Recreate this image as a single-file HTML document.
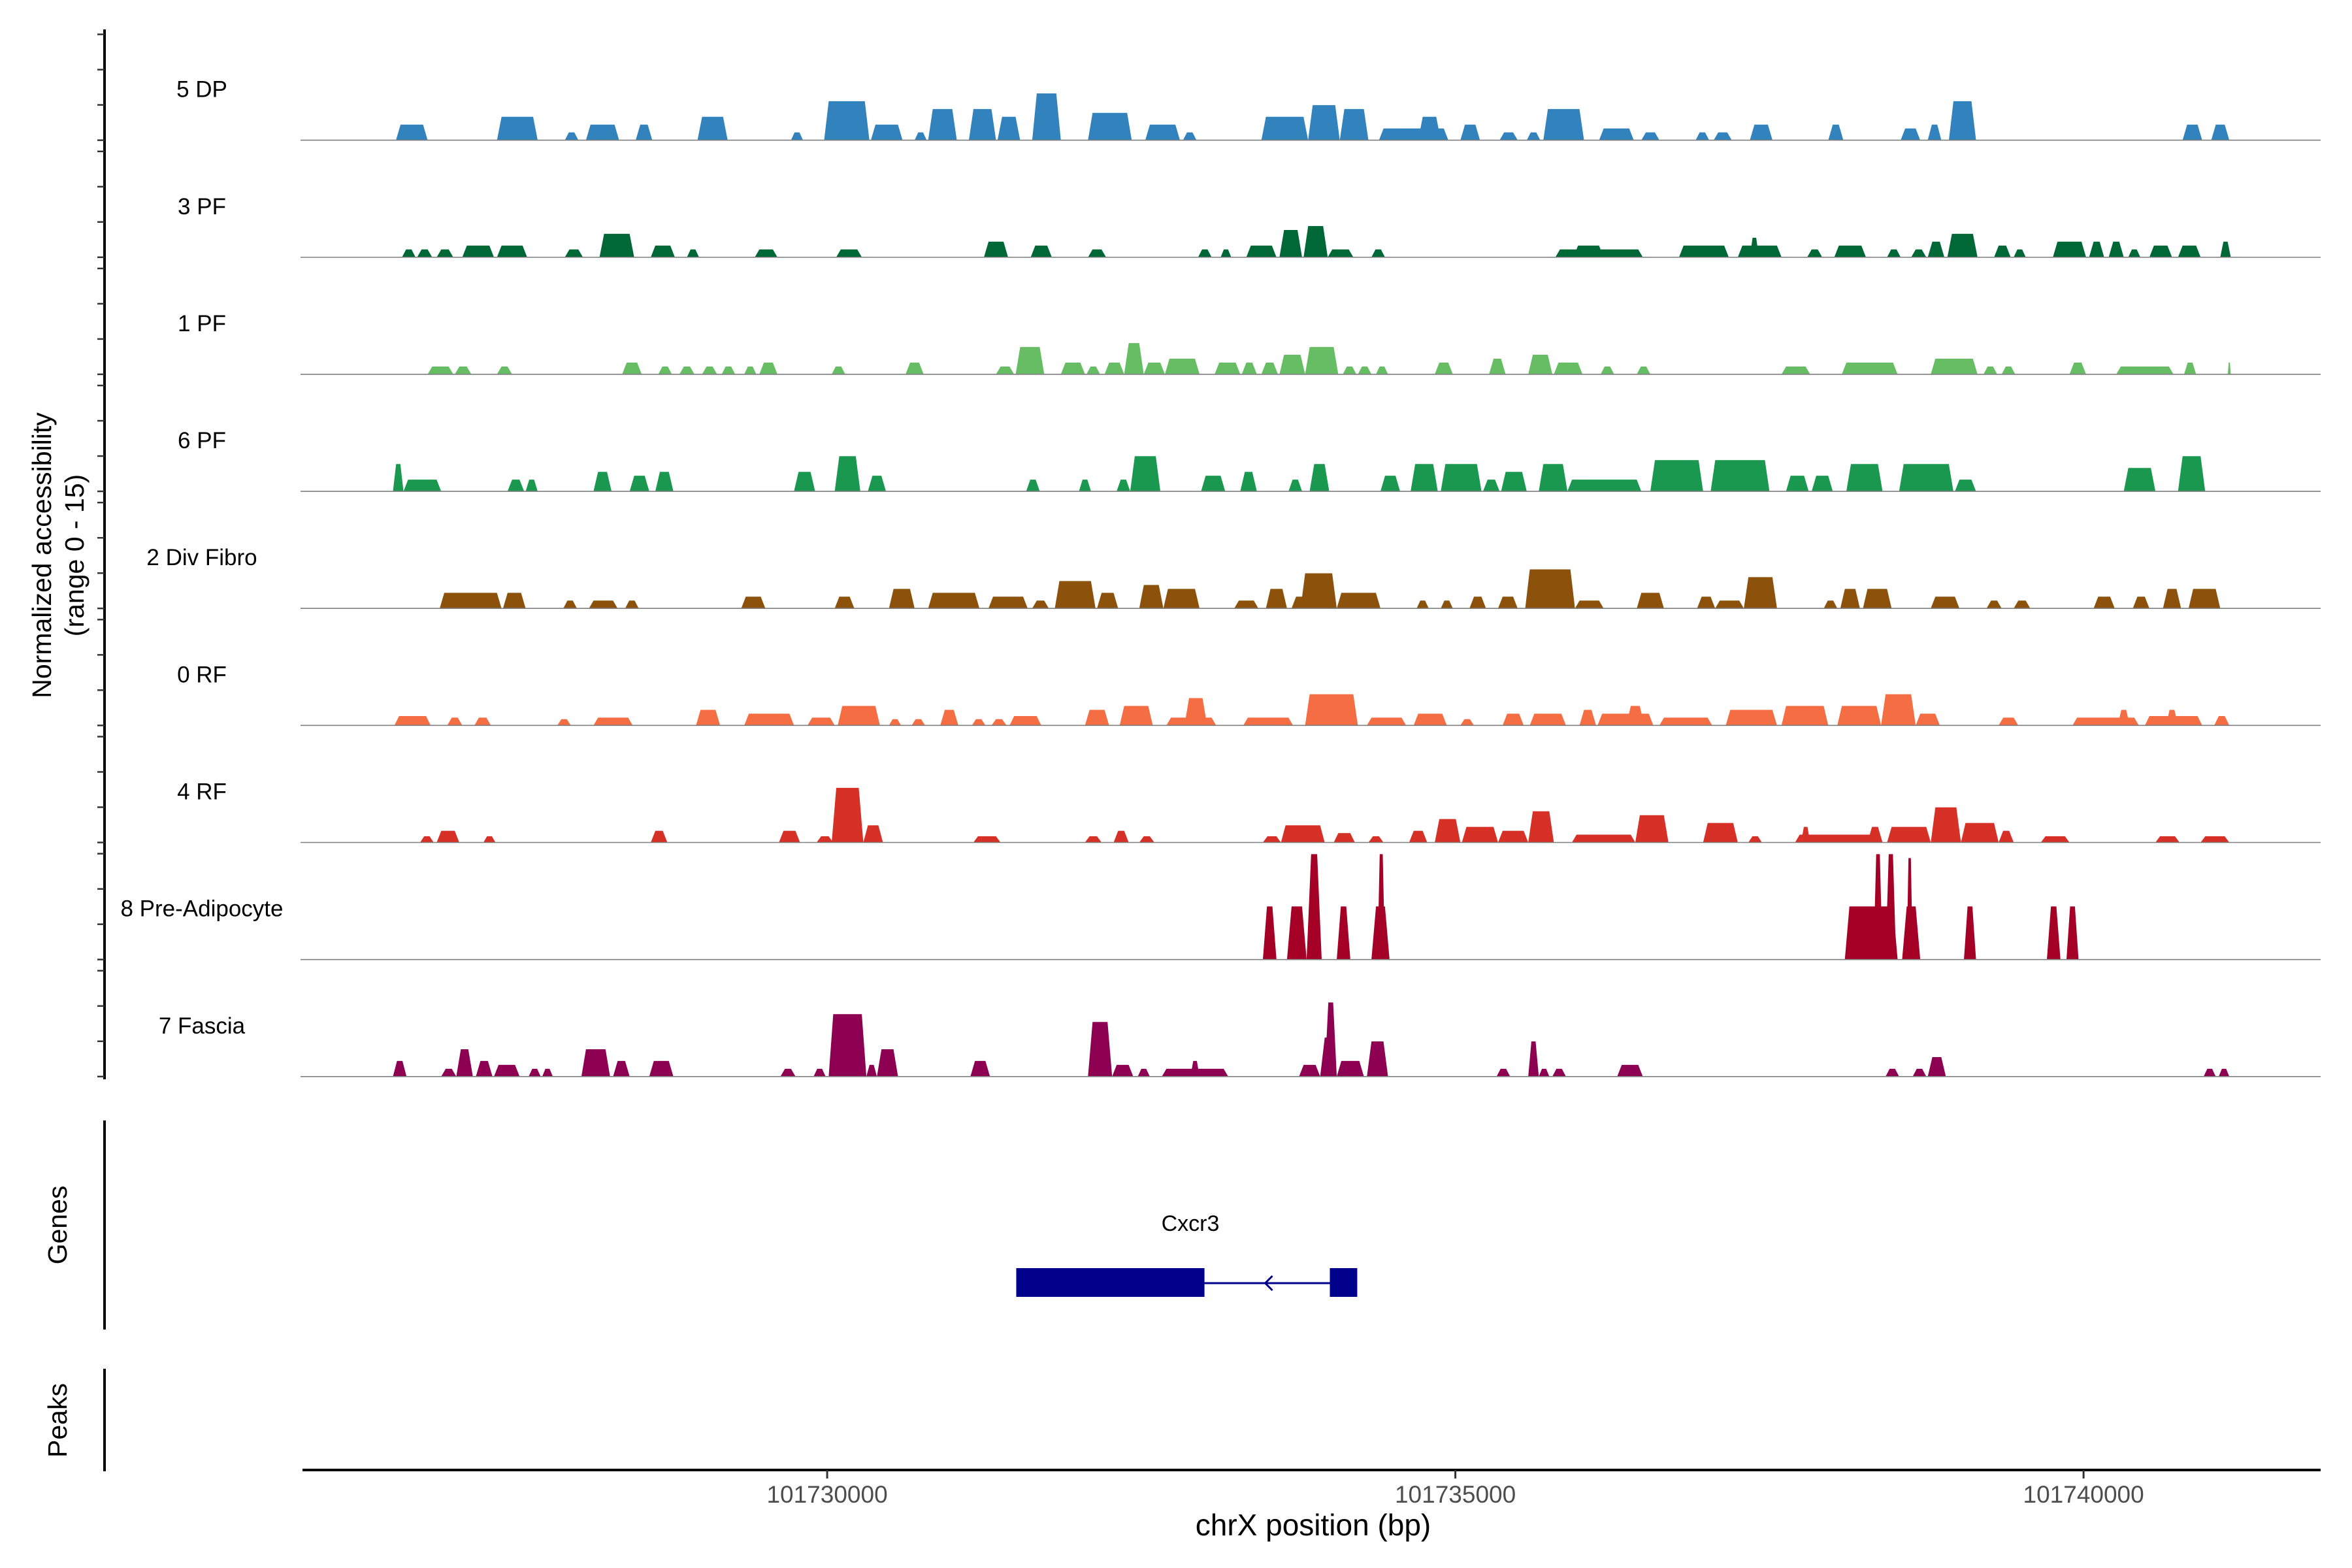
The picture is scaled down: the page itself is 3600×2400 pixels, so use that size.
<!DOCTYPE html>
<html><head><meta charset="utf-8"><style>
html,body{margin:0;padding:0;background:#fff;}
svg{display:block;font-family:"Liberation Sans",Arial,sans-serif;}
</style></head><body>
<svg id="chart" width="3600" height="2400" viewBox="0 0 3600 2400" xmlns="http://www.w3.org/2000/svg">
<g id="yaxis"></g>
<g id="tracks"></g>
<text transform="translate(78,850) rotate(-90)" text-anchor="middle" font-size="41" fill="#000">Normalized accessibility</text>
<text transform="translate(128,850) rotate(-90)" text-anchor="middle" font-size="41" fill="#000">(range 0 - 15)</text>
<line x1="160" y1="1715" x2="160" y2="2035" stroke="#000" stroke-width="4"/>
<text transform="translate(102,1875) rotate(-90)" text-anchor="middle" font-size="41" fill="#000">Genes</text>
<line x1="160" y1="2095" x2="160" y2="2252" stroke="#000" stroke-width="4"/>
<text transform="translate(102,2174) rotate(-90)" text-anchor="middle" font-size="41" fill="#000">Peaks</text>
<g id="genes"></g>
<g id="xaxis"></g>
<text x="2010" y="2350" text-anchor="middle" font-size="46" fill="#000">chrX position (bp)</text>
</svg>
<script>
const regionStart = 101725824;
const regionEnd = 101741887;
const trackNames = ["5 DP","3 PF","1 PF","6 PF","2 Div Fibro","0 RF","4 RF","8 Pre-Adipocyte","7 Fascia"];
const trackColors = ["#3182bd","#006837","#66bd63","#1a9850","#8c510a","#f46d43","#d73027","#a50026","#8e0152"];
const xTicks = [101730000,101735000,101740000];
const xTickLabels = ["101730000","101735000","101740000"];
const geneExons = [[101731505,101733003],[101734001,101734219]];
const geneName = "Cxcr3";
// segments: [start offset bp, end offset bp, normalized height]
const dp5 = [[744,996,2],[1548,1872,3],[2088,2196,1],[2256,2520,2],[2652,2784,2],[3144,3384,3],[3888,3984,1],[4152,4512,5],[4524,4776,2],[4872,4968,1],[4980,5208,4],[5304,5520,4],[5532,5712,3],[5808,6036,6],[6252,6600,3.5],[6708,6984,2],[7008,7116,1],[7632,8004,3],[8004,8256,4.5],[8256,8484,4],[8568,9120,1.5],[8880,9060,3],[9216,9372,2],[9528,9672,1],[9744,9852,1],[9876,10200,4],[10320,10596,1.5],[10656,10800,1],[11088,11196,1],[11232,11376,1],[11520,11700,2],[12144,12264,2],[12720,12876,1.5],[12936,13044,2],[13104,13320,5],[14964,15120,2],[15192,15336,2]];
const pf3 = [[792,900,1],[912,1032,1],[1068,1200,1],[1272,1524,1.5],[1548,1788,1.5],[2088,2232,1],[2364,2640,3],[2772,2964,1.5],[3060,3156,1],[3600,3780,1],[4248,4452,1],[5424,5616,2],[5796,5964,1.5],[6252,6396,1],[7128,7236,1],[7308,7392,1],[7512,7752,1.5],[7776,7956,3.5],[7968,8160,4],[8160,8364,1],[8508,8616,1],[9972,10668,1],[10116,10356,1.5],[10956,11352,1.5],[11424,11772,1.5],[11520,11592,2.5],[11976,12096,1],[12192,12444,1.5],[12612,12720,1],[12804,12924,1],[12936,13068,2],[13092,13332,3],[13464,13596,1.5],[13620,13716,1],[13932,14196,2],[14220,14340,2],[14376,14496,2],[14532,14628,1],[14700,14880,1.5],[14928,15108,1.5],[15264,15348,2]];
const pf1 = [[996,1200,1],[1212,1344,1],[1548,1668,1],[2544,2700,1.5],[2832,2940,1],[3000,3120,1],[3180,3300,1],[3336,3444,1],[3516,3612,1],[3636,3780,1.5],[4212,4320,1],[4800,4944,1.5],[5520,5664,1],[5676,5904,3.5],[6036,6228,1.5],[6240,6348,1],[6384,6540,1.5],[6540,6696,4],[6696,6864,1.5],[6864,7140,2],[7260,7464,1.5],[7476,7596,1.5],[7632,7764,1.5],[7776,7980,2.5],[7980,8244,3.5],[8280,8388,1],[8400,8508,1],[8544,8640,1],[9012,9156,1.5],[9444,9576,2],[9756,9948,2.5],[9960,10188,1.5],[10332,10440,1],[10620,10728,1],[11772,12000,1],[12252,12696,1.5],[12960,13332,2],[13380,13488,1],[13524,13632,1],[14064,14196,1.5],[14436,14892,1],[14976,15072,1.5],[15324,15348,1.5]];
const pf6 = [[720,804,3.5],[804,1104,1.5],[1632,1764,1.5],[1776,1872,1.5],[2316,2460,2.5],[2604,2760,2],[2808,2952,2.5],[3912,4080,2.5],[4236,4440,4.5],[4500,4644,2],[5760,5868,1.5],[6180,6276,1.5],[6480,6588,1.5],[6588,6828,4.5],[7152,7344,2],[7464,7596,2.5],[7848,7956,1.5],[8016,8172,3.5],[8580,8736,2],[8820,9036,3.5],[9060,9384,3.5],[9396,9528,1.5],[9540,9744,2.5],[9840,10068,3.5],[10068,10656,1.5],[10728,11148,4],[11208,11676,4],[11808,11988,2],[12012,12180,2],[12288,12576,3.5],[12708,13140,3.5],[13152,13320,1.5],[14496,14748,3],[14928,15144,4.5]];
const divFibro2 = [[1092,1584,2],[1596,1776,2],[2076,2184,1],[2280,2508,1],[2568,2676,1],[3492,3684,1.5],[4236,4392,1.5],[4668,4872,2.5],[4980,5388,2],[5460,5772,1.5],[5808,5940,1],[5988,6312,3.5],[6324,6492,2],[6660,6852,3],[6852,7140,2.5],[7416,7608,1],[7668,7836,2.5],[7872,8040,1.5],[7944,8232,4.5],[8232,8580,2],[8868,8964,1],[9060,9156,1],[9288,9420,1.5],[9516,9672,1.5],[9732,10128,5],[10128,10356,1],[10620,10836,2],[11100,11244,1.5],[11244,11472,1],[11472,11736,4],[12108,12216,1],[12240,12396,2.5],[12420,12648,2.5],[12960,13188,1.5],[13404,13524,1],[13620,13752,1],[14256,14424,1.5],[14568,14700,1.5],[14808,14952,2.5],[15012,15264,2.5]];
const rf0 = [[732,1020,1.2],[1152,1272,1],[1368,1500,1],[2028,2136,0.8],[2316,2628,1],[3132,3324,2],[3516,3912,1.5],[4020,4236,1],[4260,4596,2.5],[4668,4764,0.8],[4848,4956,0.8],[5076,5220,2],[5328,5436,0.8],[5484,5604,0.8],[5628,5880,1.2],[6228,6420,2],[6504,6768,2.5],[6876,7272,1],[7020,7200,3.5],[7488,7884,1],[7980,8400,4],[8472,8784,1],[8844,9108,1.5],[9216,9324,0.8],[9552,9720,1.5],[9768,10056,1.5],[10164,10296,2],[10308,10752,1.5],[10536,10680,2.5],[10800,11220,1],[11328,11736,2],[11772,12144,2.5],[12216,12564,2.5],[12564,12840,4],[12840,13032,1.5],[13500,13656,1],[14088,14616,1],[14448,14544,2],[14664,15120,1.2],[14832,14928,2],[15216,15336,1.2]];
const rf4 = [[936,1044,0.8],[1068,1248,1.5],[1440,1536,0.8],[2772,2904,1.5],[3792,3960,1.5],[4092,4224,0.8],[4212,4464,7],[4464,4620,2.2],[5340,5556,0.8],[6228,6360,0.8],[6456,6576,1.5],[6660,6780,0.8],[7644,7788,0.8],[7788,8136,2.2],[8208,8376,1.2],[8484,8604,0.8],[8808,8952,1.5],[9012,9216,3],[9228,9516,2],[9516,9756,1.5],[9756,9960,4],[10104,10608,1],[10608,10872,3.5],[11148,11424,2.5],[11508,11616,0.8],[11880,12576,1],[11928,12000,2],[12456,12576,2],[12612,12960,2],[12960,13200,4.5],[13200,13500,2.5],[13500,13620,1.5],[13836,14064,0.8],[14748,14940,0.8],[15108,15336,0.8]];
const preAdipocyte8 = [[7644,7752,6.8],[7836,7992,6.8],[7992,8112,13.5],[8232,8340,6.8],[8508,8652,6.8],[8556,8616,13.5],[12276,12696,6.8],[12504,12576,13.5],[12600,12684,13.5],[12732,12876,6.8],[12768,12816,13],[13224,13320,6.8],[13884,13992,6.8],[14040,14136,6.8]];
const fascia7 = [[720,828,2],[1104,1224,1],[1224,1356,3.5],[1380,1512,2],[1524,1728,1.5],[1800,1896,1],[1908,1992,1],[2220,2448,3.5],[2472,2604,2],[2760,2952,2],[3804,3924,1],[4068,4164,1],[4188,4488,8],[4488,4572,1.5],[4572,4740,3.5],[5316,5472,2],[6252,6444,7],[6444,6612,1.5],[6648,6744,1],[6840,7368,1],[7068,7140,2],[7932,8100,1.5],[8100,8232,5],[8136,8232,9.5],[8232,8448,2],[8472,8640,4.5],[9504,9612,1],[9756,9840,4.5],[9840,9924,1],[9948,10056,1],[10464,10668,1.5],[12600,12708,1],[12816,12924,1],[12936,13080,2.5],[15132,15228,1],[15252,15336,1]];
const trackData = [dp5,pf3,pf1,pf6,divFibro2,rf0,rf4,preAdipocyte8,fascia7];

const NS = "http://www.w3.org/2000/svg";
const X0 = 463, X1 = 3552;
function xScale(bp){ return X0 + (bp - regionStart) / (regionEnd - regionStart) * (X1 - X0); }
const trackBase0 = 214.6, trackStep = 179.15, yMax = 15;
function yScale(v, i){ return trackBase0 + i*trackStep - v/yMax*trackStep; }
function mk(tag, attrs, parent){ const e=document.createElementNS(NS,tag); for(const k in attrs) e.setAttribute(k,attrs[k]); parent.appendChild(e); return e; }

// y axis
const ya = document.getElementById('yaxis');
const yl = mk('line',{x1:160,y1:45,x2:160,y2:1652,stroke:'#000','stroke-width':4},ya);


for(let i=0; i<trackNames.length; i++){
  const b = yScale(0,i);
  for(let k=0;k<4;k++){
    const y = b - k*54;
    const t = mk('line',{x1:149,y1:y,x2:160,y2:y,stroke:'#333','stroke-width':2.5},ya);
    
    
  }
}

// tracks
const tg = document.getElementById('tracks');
trackData.forEach((segs, i) => {
  const g = mk('g',{},tg);
  
  
  const base = yScale(0,i);
  const lab = mk('text',{x:309,y:base-66,'text-anchor':'middle','font-size':35,fill:'#000'},g);
  lab.textContent = trackNames[i];
  
  
  segs.forEach(s => {
    const xa = xScale(regionStart + s[0]), xb = xScale(regionStart + s[1]);
    const yt = yScale(s[2], i);
    const sl = Math.min((xb-xa)*0.3, 7);
    const p = mk('polygon',{points:`${xa},${base} ${xa+sl},${yt} ${xb-sl},${yt} ${xb},${base}`,fill:trackColors[i]},g);
    
    
  });
  const bl = mk('line',{x1:460,y1:base,x2:X1,y2:base,stroke:'#7f7f7f','stroke-width':1.6},g);
  
  
});

// gene
const gg = document.getElementById('genes');
const gy = 1964;
const intr = mk('line',{x1:xScale(geneExons[0][1]),y1:gy,x2:xScale(geneExons[1][0]),y2:gy,stroke:'#00008b','stroke-width':3},gg);


const ax = (xScale(geneExons[0][1])+xScale(geneExons[1][0]))/2;
const arr = mk('polyline',{points:`${ax+8},${gy-11} ${ax-3},${gy} ${ax+8},${gy+11}`,fill:'none',stroke:'#00008b','stroke-width':3},gg);


geneExons.forEach(e => {
  const r = mk('rect',{x:xScale(e[0]),y:1941,width:xScale(e[1])-xScale(e[0]),height:44,fill:'#00008b'},gg);
  
  
});
const gl = mk('text',{x:1822,y:1884,'text-anchor':'middle','font-size':34,fill:'#000'},gg);
gl.textContent = geneName;



// x axis
const xa = document.getElementById('xaxis');
const xl = mk('line',{x1:X0,y1:2250,x2:X1,y2:2250,stroke:'#000','stroke-width':4},xa);


xTicks.forEach((t,i) => {
  const x = xScale(t);
  const tk = mk('line',{x1:x,y1:2250,x2:x,y2:2263,stroke:'#333','stroke-width':3},xa);
  
  
  const tl = mk('text',{x:x,y:2300,'text-anchor':'middle','font-size':37,fill:'#4d4d4d'},xa);
  tl.textContent = xTickLabels[i];
  
  
});
</script>
</body></html>
